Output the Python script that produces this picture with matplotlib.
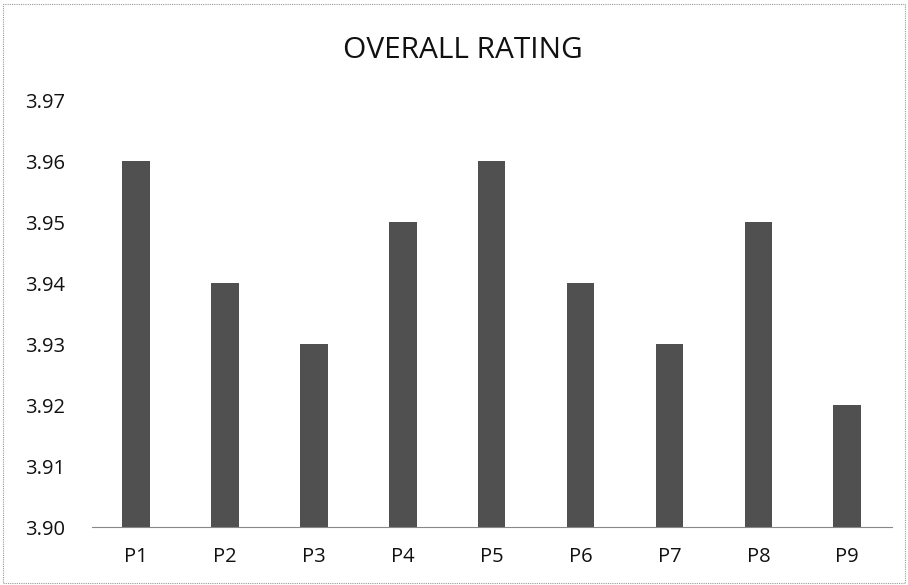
import matplotlib
matplotlib.use("Agg")
import matplotlib.pyplot as plt
from matplotlib.patches import Rectangle

# data
products = ["P1", "P2", "P3", "P4", "P5", "P6", "P7", "P8", "P9"]
ratings = [3.96, 3.94, 3.93, 3.95, 3.96, 3.94, 3.93, 3.95, 3.92]
y_ticks = [3.90, 3.91, 3.92, 3.93, 3.94, 3.95, 3.96, 3.97]

plt.rcParams['font.family'] = ['Open Sans', 'DejaVu Sans']

fig = plt.figure(figsize=(9.08, 5.85), dpi=100)
ax = fig.add_axes([0.101, 0.099, 0.881, 0.73])

x = list(range(len(products)))
ax.bar(x, [r - 3.90 for r in ratings], bottom=3.90, width=0.31, color="#505050")

ax.set_xlim(-0.5, len(products) - 0.5)
ax.set_ylim(3.90, 3.97)
ax.set_yticks(y_ticks)
ax.set_yticklabels(["%.2f" % t for t in y_ticks])
ax.set_xticks(x)
ax.set_xticklabels(products)
ax.tick_params(axis="both", length=0, colors="#111111")
ax.tick_params(axis="y", pad=48, labelsize=14.5)
ax.tick_params(axis="x", pad=14, labelsize=14.5)
for lbl in ax.get_yticklabels():
    lbl.set_horizontalalignment("left")

for s in ["top", "right", "left"]:
    ax.spines[s].set_visible(False)
ax.spines["bottom"].set_color("#888888")
ax.spines["bottom"].set_linewidth(0.8)
ax.spines["bottom"].set_linestyle((0, (1, 1)))

fig.text(0.51, 0.913, "OVERALL RATING", ha="center", va="center", fontsize=21.5, color="#111111")

# dotted chart border
fig.patches.append(Rectangle((0.003, 0.003), 0.994, 0.99, transform=fig.transFigure,
                             fill=False, edgecolor="#999999", linewidth=0.8,
                             linestyle=(0, (1, 1))))

fig.savefig("out.png", dpi=100)
